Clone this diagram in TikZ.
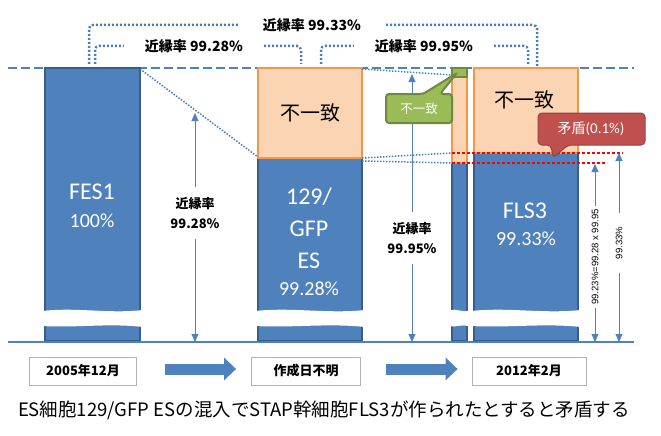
\documentclass[tikz,border=0pt]{standalone}
\usepackage{fontspec}
\setmainfont{Carlito}
\newfontfamily\jp{Noto Sans CJK JP}
\newfontfamily\arialfont{Liberation Sans}
\usetikzlibrary{arrows.meta}
\definecolor{barblue}{HTML}{4F81BD}
\definecolor{barline}{HTML}{385D8A}
\definecolor{peach}{HTML}{FBD4B4}
\definecolor{peachline}{HTML}{F79646}
\definecolor{tipgreen}{HTML}{9BBB59}
\definecolor{tipgreenline}{HTML}{71893F}
\definecolor{tipred}{HTML}{C0504D}
\definecolor{dotblue}{HTML}{4A7EBB}
\begin{document}
\begin{tikzpicture}[x=1pt,y=-1pt,
    barbox/.style={fill=barblue,draw=barline,line width=1.5pt},
    diffbox/.style={fill=peach,draw=peachline,line width=2pt},
    fanline/.style={dotblue,line width=1.5pt,dash pattern=on 1.5pt off 1.5pt},
    bracket/.style={dotblue,line width=2.5pt,dash pattern=on 2pt off 2pt,rounded corners=4pt},
    nearlbl/.style={font=\jp\bfseries\fontsize{14}{14}\selectfont,inner ysep=2pt},
    dimlbl/.style={font=\jp\bfseries\fontsize{13}{20}\selectfont,align=center,inner ysep=10pt},
    sidelbl/.style={font=\arialfont\fontsize{9.5}{9.5}\selectfont,rotate=90},
    dim/.style={barblue,line width=0.9pt,-{Triangle[length=8pt,width=7pt]}},
    reddots/.style={red,line width=2.5pt,dash pattern=on 2.5pt off 2.5pt},
    bigname/.style={text=white,font=\fontsize{24}{24}\selectfont},
    pct/.style={text=white,font=\fontsize{20}{20}\selectfont},
    diffword/.style={font=\jp\fontsize{20}{20}\selectfont},
    datebox/.style={draw=black!30,line width=0.8pt,minimum height=28pt,font=\jp\bfseries\fontsize{13}{13}\selectfont},
    blockarrow/.style={barblue,line width=11pt,-{Triangle[length=12pt,width=22pt]}}]
    \useasboundingbox (0,0) rectangle (661,436);
    % reference levels
    \draw[barblue,line width=2.5pt,dash pattern=on 9pt off 4pt] (8,68) -- (634,68);
    % bars
    \filldraw[barbox] (45,68) rectangle (140,341);
    \filldraw[barbox] (258,158) rectangle (362,341);
    \filldraw[diffbox] (258,68) rectangle (362,158);
    \filldraw[barbox] (452,163) rectangle (467,341);
    \filldraw[diffbox] (452,68) rectangle (467,163);
    \filldraw[fill=tipgreen,draw=tipgreenline,line width=1.5pt] (452,68) rectangle (467,77);
    \filldraw[barbox] (474,153) rectangle (578,341);
    \filldraw[diffbox] (474,68) rectangle (578,153);
    % breaks
    \foreach \xa/\xb in {45/140,258/362,452/467,474/578}
        \fill[white] (\xa-3,311) .. controls ({\xa+(\xb-\xa)/3},307) and ({\xa+2*(\xb-\xa)/3},314) .. (\xb+3,310)
            -- (\xb+3,327) .. controls ({\xa+2*(\xb-\xa)/3},323) and ({\xa+(\xb-\xa)/3},328) .. (\xa-3,326) -- cycle;
    \draw[barblue,line width=2.5pt] (8,342) -- (634,342);
    % bar texts
    \node[bigname] (fes) at (92,192) {FES1};
    \node[pct] (fespct) at (92,221) {100\%};
    \node[bigname] (gfpa) at (309,197) {129/};
    \node[bigname] (gfpb) at (309,229) {GFP};
    \node[bigname] (gfpc) at (309,261) {ES};
    \node[pct] (gfppct) at (309,289) {99.28\%};
    \node[bigname] (fls) at (525,211) {FLS3};
    \node[pct] (flspct) at (526,239) {99.33\%};
    \node[diffword] (diffa) at (310,113) {不一致};
    \node[diffword] (diffb) at (524,100) {不一致};
    % fan lines
    \draw[fanline] (140,69) -- (258,157);
    \draw[fanline] (362,69) -- (452,75);
    \draw[fanline] (362,158) -- (452,153);
    \draw[fanline] (362,161) -- (452,163);
    \draw[reddots] (452,153) -- (623,153);
    \draw[reddots] (452,163) -- (607,163);
    % brackets
    \node[nearlbl,inner xsep=25pt] (near3) at (312,25) {近縁率 99.33\%};
    \draw[bracket] (89,64) |- (near3.west);
    \draw[bracket] (near3.east) -| (537,66);
    \node[nearlbl,inner xsep=21pt] (near1) at (194,46) {近縁率 99.28\%};
    \draw[bracket] (95,64) |- (near1.west);
    \draw[bracket] (near1.east) -| (301,64);
    \node[nearlbl,inner xsep=21pt] (near2) at (424,46) {近縁率 99.95\%};
    \draw[bracket] (321,64) |- (near2.west);
    \draw[bracket] (near2.east) -| (528,64);
    % distance arrows
    \coordinate (topa) at (195,113);
    \coordinate (bota) at (195,342);
    \node[dimlbl] (rate1) at (195,213) {近縁率\\99.28\%};
    \draw[dim] (rate1.north) -- (topa);
    \draw[dim] (rate1.south) -- (bota);
    \coordinate (topb) at (412,74);
    \coordinate (botb) at (412,342);
    \node[dimlbl] (rate2) at (412,238) {近縁率\\99.95\%};
    \draw[dim] (rate2.north) -- (topb);
    \draw[dim] (rate2.south) -- (botb);
    \coordinate (topc) at (595,164);
    \coordinate (botc) at (595,342);
    \node[sidelbl,inner xsep=3pt] (prod) at (595,257) {99.23\%=99.28 x 99.95};
    \draw[dim] (prod.east) -- (topc);
    \draw[dim] (prod.west) -- (botc);
    \coordinate (topd) at (619,153);
    \coordinate (botd) at (619,342);
    \node[sidelbl,inner xsep=14pt] (flsrate) at (619,243) {99.33\%};
    \draw[dim] (flsrate.east) -- (topd);
    \draw[dim] (flsrate.west) -- (botd);
    % callouts
    \filldraw[fill=tipgreen,draw=tipgreenline,line width=2pt,rounded corners=3pt]
        (386,94) -- (423,94) -- (457,73) -- (440,94) -- (452,94) -- (452,123) -- (386,123) -- cycle;
    \node[text=white,font=\jp\fontsize{12.5}{12.5}\selectfont] (gtag) at (419,109) {不一致};
    \filldraw[fill=tipred,draw=tipred!80!black,line width=1pt,rounded corners=4pt]
        (538,113) -- (645,113) -- (645,145) -- (568,145) -- (553,158) -- (551,145) -- (538,145) -- cycle;
    \node[text=white,font=\fontsize{15}{15}\selectfont] (rtag) at (591,129) {{\jp\fontsize{14}{14}\selectfont 矛盾}(0.1\%)};
    % timeline
    \node[datebox,minimum width=107pt] (when1) at (83,371) {2005年12月};
    \node[datebox,minimum width=109pt] (when2) at (306,371) {作成日不明};
    \node[datebox,minimum width=114pt] (when3) at (529,371) {2012年2月};
    \draw[blockarrow,shorten <=28pt,shorten >=15pt] ([yshift=2pt]when1.east) -- ([yshift=2pt]when2.west);
    \draw[blockarrow,shorten <=25pt,shorten >=14pt] ([yshift=2pt]when2.east) -- ([yshift=2pt]when3.west);
    \node[font=\jp\fontsize{18.5}{18.5}\selectfont] (caption) at (324,410) {ES細胞129/GFP ESの混入でSTAP幹細胞FLS3が作られたとすると矛盾する};
\end{tikzpicture}
\end{document}
